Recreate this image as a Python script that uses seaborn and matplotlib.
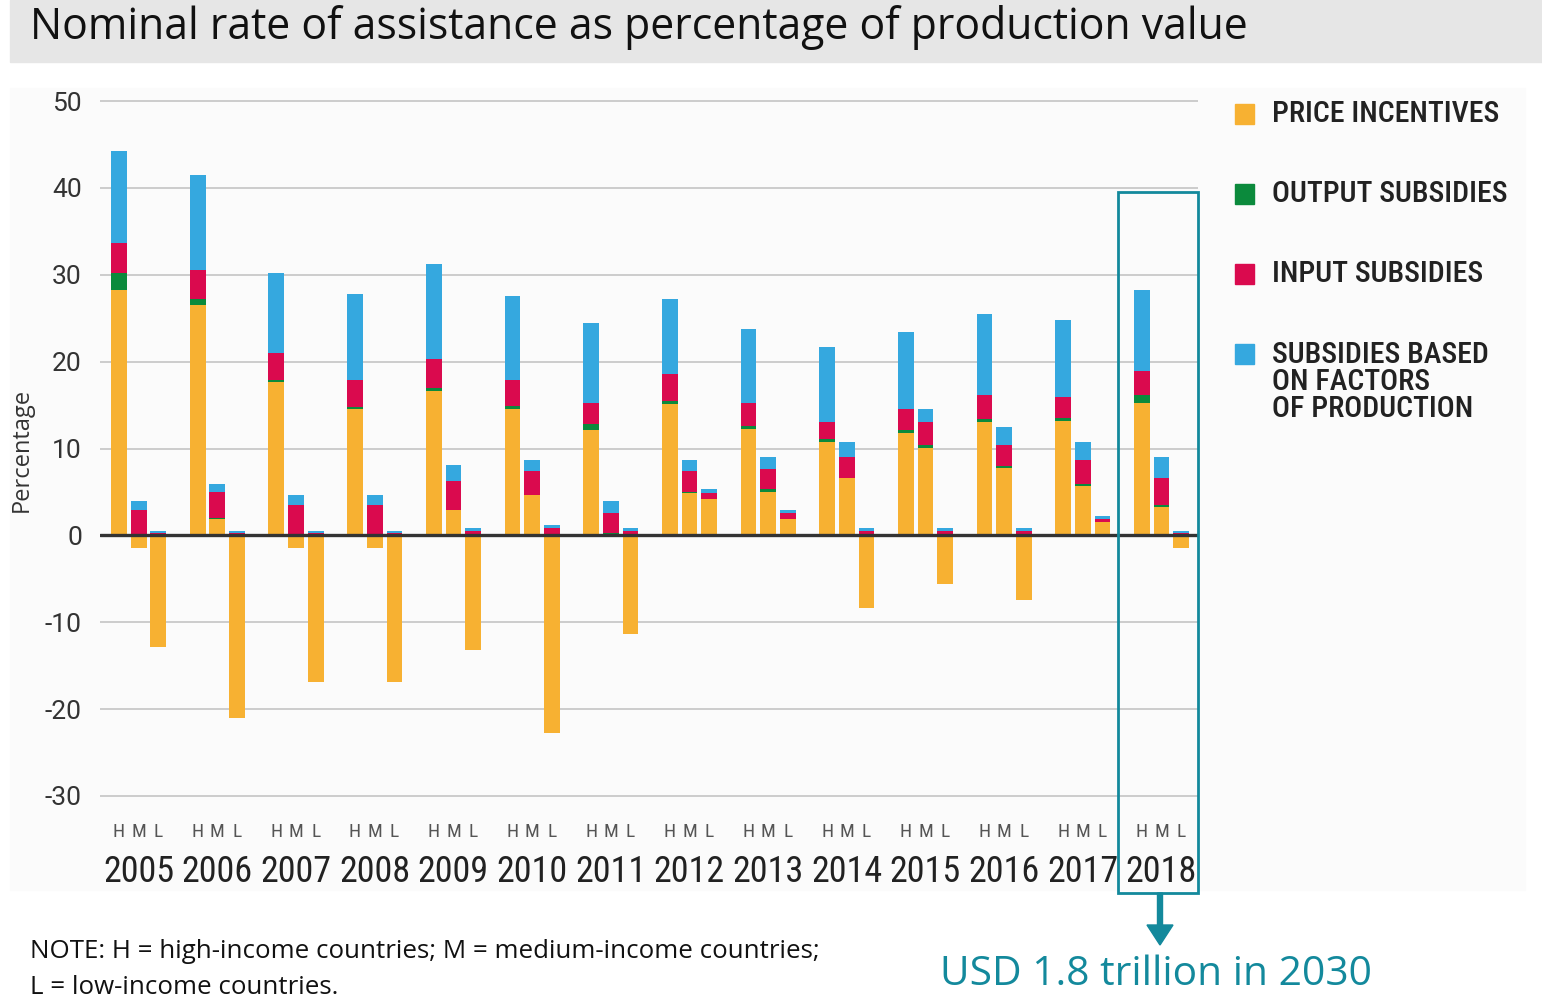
import matplotlib
matplotlib.use("Agg")
import matplotlib.pyplot as plt
import seaborn as sns
import numpy as np
import pandas as pd
from matplotlib.patches import Rectangle, FancyArrow
from matplotlib import font_manager

# ---------------- data ----------------
years = ["2005", "2006", "2007", "2008", "2009", "2010", "2011",
         "2012", "2013", "2014", "2015", "2016", "2017", "2018"]
income_groups = ["H", "M", "L"]
series_names = ["PRICE INCENTIVES", "OUTPUT SUBSIDIES", "INPUT SUBSIDIES",
                "SUBSIDIES BASED\nON FACTORS\nOF PRODUCTION"]

price_H = [28.2, 26.5, 17.6, 14.5, 16.6, 14.5, 12.1, 15.1, 12.2, 10.75, 11.8, 13.1, 13.2, 15.2]
output_H = [2.0, 0.7, 0.3, 0.3, 0.4, 0.4, 0.7, 0.4, 0.4, 0.35, 0.3, 0.3, 0.3, 1.0]
input_H = [3.5, 3.4, 3.1, 3.1, 3.3, 3.0, 2.4, 3.1, 2.6, 2.0, 2.4, 2.8, 2.4, 2.7]
factors_H = [10.5, 10.9, 9.2, 9.9, 10.9, 9.6, 9.2, 8.6, 8.5, 8.6, 8.9, 9.3, 8.9, 9.3]

price_M = [-1.5, 1.9, -1.5, -1.5, 2.9, 4.6, 0.2, 4.9, 5.0, 6.6, 10.1, 7.7, 5.65, 3.25]
output_M = [0.1, 0.05, 0.1, 0.1, 0.05, 0.05, 0.05, 0.05, 0.35, 0.05, 0.3, 0.3, 0.3, 0.3]
input_M = [2.8, 3.0, 3.4, 3.4, 3.35, 2.75, 2.35, 2.45, 2.3, 2.35, 2.7, 2.4, 2.75, 3.05]
factors_M = [1.1, 1.0, 1.1, 1.1, 1.8, 1.3, 1.35, 1.3, 1.4, 1.75, 1.4, 2.1, 2.05, 2.4]

price_L = [-12.8, -21.0, -16.9, -16.9, -13.2, -22.7, -11.4, 4.2, 1.9, -8.4, -5.6, -7.4, 1.5, -1.5]
output_L = [0.0, 0.0, 0.0, 0.0, 0.0, 0.0, 0.0, 0.0, 0.0, 0.0, 0.0, 0.0, 0.0, 0.0]
input_L = [0.3, 0.3, 0.3, 0.3, 0.5, 0.85, 0.5, 0.7, 0.7, 0.5, 0.5, 0.5, 0.35, 0.25]
factors_L = [0.25, 0.2, 0.2, 0.2, 0.4, 0.35, 0.4, 0.4, 0.3, 0.4, 0.4, 0.4, 0.35, 0.25]

colors = ["#F7B132", "#0B8A3C", "#DA0A4E", "#35A8DF"]
teal = "#13899C"

# ---------------- fonts ----------------
available = {f.name for f in font_manager.fontManager.ttflist}
def pick(*names):
    for n in names:
        if n in available:
            return n
    return "DejaVu Sans"

narrow = pick("Roboto Condensed", "Liberation Sans Narrow", "DejaVu Sans Condensed", "Roboto")
is_narrow = narrow != "Roboto"
sans = pick("Open Sans", "Noto Sans", "DejaVu Sans")
tickfont = pick("Roboto", "DejaVu Sans")

sns.set_theme(style="white")
plt.rcParams["font.family"] = [tickfont, "DejaVu Sans"]
plt.rcParams["axes.unicode_minus"] = False

W, H = 1542, 997
fig = plt.figure(figsize=(W / 100, H / 100), dpi=100)

def fx(px):
    return px / W
def fy(py):
    return 1 - py / H

# background panels (behind everything)
fig.patches.append(Rectangle((fx(10), fy(62)), fx(1542) - fx(10), fy(0) - fy(62),
                             transform=fig.transFigure, color="#E6E6E6", zorder=-10))
fig.patches.append(Rectangle((fx(10), fy(890)), fx(1525) - fx(10), fy(88) - fy(890),
                             transform=fig.transFigure, color="#FBFBFB", zorder=-10))

# axes: x data unit = 19.67 px, H 2005 at 0 -> px 119
ax_left, ax_right = 100, 1198
ax_top, ax_bottom = 96.7, 800.3
ax = fig.add_axes([fx(ax_left), fy(ax_bottom), fx(ax_right) - fx(ax_left), fy(ax_top) - fy(ax_bottom)])
ax.set_zorder(2)
ax.set_facecolor("none")
ax.patch.set_alpha(0)

rows = []
for gi, g in enumerate(income_groups):
    P = [price_H, price_M, price_L][gi]
    O = [output_H, output_M, output_L][gi]
    I = [input_H, input_M, input_L][gi]
    F = [factors_H, factors_M, factors_L][gi]
    for yi, yr in enumerate(years):
        rows.append(dict(pos=4 * yi + gi, year=yr, group=g,
                         price=P[yi], output=O[yi], inp=I[yi], factors=F[yi]))
df = pd.DataFrame(rows).sort_values("pos").reset_index(drop=True)
df["b_price"] = 0.0
df["b_output"] = df["price"].clip(lower=0)
df["b_inp"] = df["b_output"] + df["output"]
df["b_factors"] = df["b_inp"] + df["inp"]

for col, c in zip(["price", "output", "inp", "factors"], colors):
    sns.barplot(data=df, x="pos", y=col, native_scale=True, width=0.8,
                color=c, saturation=1, errorbar=None, linewidth=0,
                bottom=df["b_" + col].values, ax=ax, zorder=2)

ax.set_ylim(-30.5, 50.5)
ax.set_xlim((ax_left - 119) / 19.67, (ax_right - 119) / 19.67)
ax.set_yticks(np.arange(-30, 51, 10))
ax.yaxis.grid(True, color="#C9C9C9", linewidth=1.3, zorder=0)
ax.set_axisbelow(True)
ax.axhline(0, color="#333333", linewidth=2.4, zorder=5)
for s in ax.spines.values():
    s.set_visible(False)
ax.tick_params(axis="y", length=0, pad=13, labelsize=19, labelcolor="#333333")
for t in ax.get_yticklabels():
    t.set_fontfamily([tickfont, "DejaVu Sans"])

ax.set_xticks(df["pos"].values)
ax.set_xticklabels(df["group"].values)
ax.tick_params(axis="x", length=0, pad=16, labelsize=14, labelcolor="#555555")
for t in ax.get_xticklabels():
    t.set_fontfamily([narrow, "DejaVu Sans"])
ax.set_xlabel("")
ax.set_ylabel("")

# year labels under M bars
for yi, yr in enumerate(years):
    fig.text(fx(119 + (4 * yi + 1) * 19.67), fy(872), yr, ha="center", va="center",
             fontsize=26 if is_narrow else 23, color="#222222",
             family=[narrow, "DejaVu Sans"])

# y label
fig.text(fx(22), fy(450), "Percentage", rotation=90, ha="center", va="center",
         fontsize=17, color="#333333", family=[sans, "DejaVu Sans"])

# title
fig.text(fx(30), fy(28), "Nominal rate of assistance as percentage of production value",
         ha="left", va="center", fontsize=30.8, color="#111111", family=[sans, "DejaVu Sans"])

# legend
leg_y = [114, 194, 274, 382]
for name, c, yy in zip(series_names, colors, leg_y):
    sq_y = 354 if "\n" in name else yy
    fig.patches.append(Rectangle((fx(1235), fy(sq_y + 10)), fx(19), fy(0) - fy(20),
                                 transform=fig.transFigure, color=c, zorder=3))
    fig.text(fx(1272), fy(yy), name, ha="left", va="center",
             fontsize=21.5 if is_narrow else 17, color="#222222", fontweight="medium",
             family=[narrow, "DejaVu Sans"], linespacing=0.95)

# teal box and arrow
fig.patches.append(Rectangle((fx(1118), fy(893)), fx(1198) - fx(1118), fy(192) - fy(893),
                             transform=fig.transFigure, fill=False, edgecolor=teal,
                             linewidth=2.0, zorder=6))
fig.patches.append(FancyArrow(fx(1160), fy(893), 0, fy(945) - fy(893),
                              width=fx(5), head_width=fx(26), head_length=(fy(0) - fy(20)),
                              length_includes_head=True, transform=fig.transFigure,
                              color=teal, zorder=6))
fig.text(fx(940), fy(975), "USD 1.8 trillion in 2030", ha="left", va="center",
         fontsize=29.3, color=teal, family=[sans, "DejaVu Sans"])

# note
fig.text(fx(30), fy(951), "NOTE: H = high-income countries; M = medium-income countries;",
         ha="left", va="center", fontsize=18.6, color="#111111", family=[sans, "DejaVu Sans"])
fig.text(fx(30), fy(987), "L = low-income countries.",
         ha="left", va="center", fontsize=18.6, color="#111111", family=[sans, "DejaVu Sans"])

fig.savefig("out.png", dpi=100)
